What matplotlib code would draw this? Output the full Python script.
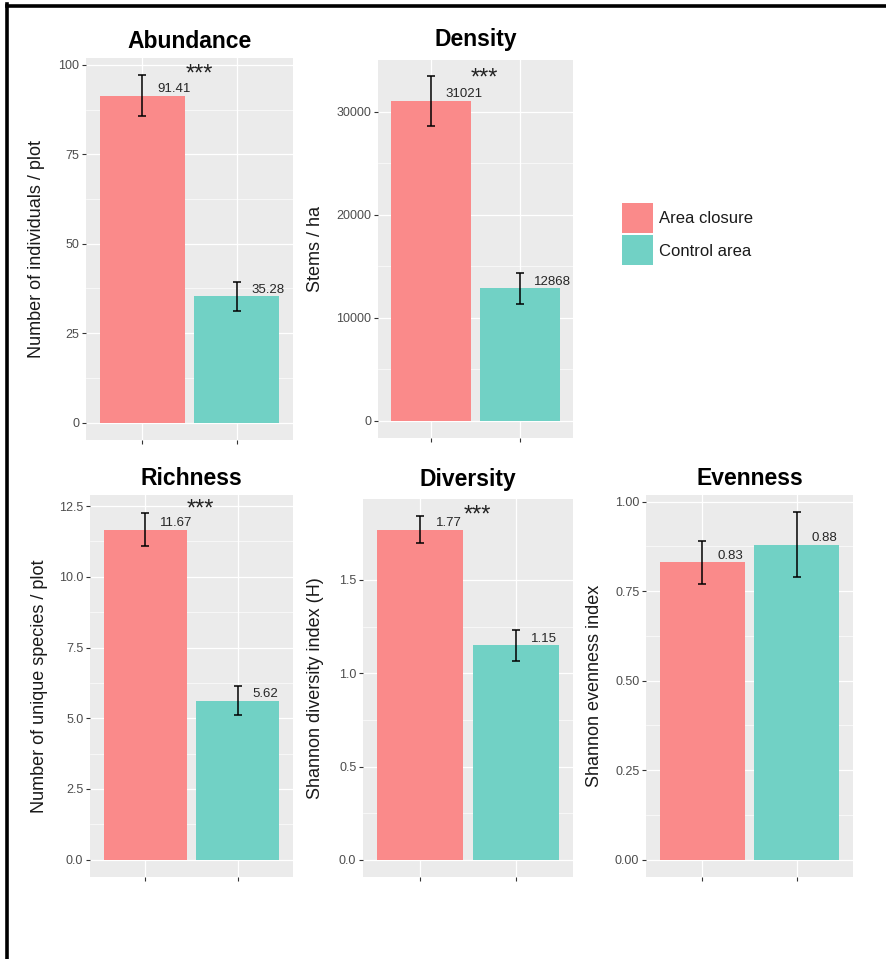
import matplotlib
matplotlib.use("Agg")
import matplotlib.pyplot as plt
from matplotlib.patches import Patch
from matplotlib.lines import Line2D

plt.rcParams['font.family'] = ['Liberation Sans', 'DejaVu Sans']

# Grupos y colores
grupos = ["Area closure", "Control area"]
colores = ["#FA8A8A", "#71D1C5"]

# Medias y errores de cada indicador (Area closure, Control area)
medias_abundancia = [91.41, 35.28]
err_abundancia = [5.6, 4.0]
medias_densidad = [31021, 12868]
err_densidad = [2430, 1505]
medias_riqueza = [11.67, 5.62]
err_riqueza = [0.6, 0.52]
medias_diversidad = [1.77, 1.15]
err_diversidad = [0.071, 0.082]
medias_equidad = [0.83, 0.88]
err_equidad = [0.061, 0.09]

# Asteriscos de significancia (None = sin marca)
estrellas_y = [99.2, 33825, 12.6, 1.878, None]

titulos = ["Abundance", "Density", "Richness", "Diversity", "Evenness"]
etiquetas_y = ["Number of individuals / plot", "Stems / ha",
               "Number of unique species / plot", "Shannon diversity index (H)",
               "Shannon evenness index"]

ticks_abundancia = [0, 25, 50, 75, 100]
ticks_densidad = [0, 10000, 20000, 30000]
ticks_riqueza = [0, 2.5, 5.0, 7.5, 10.0, 12.5]
ticks_diversidad = [0, 0.5, 1.0, 1.5]
ticks_equidad = [0, 0.25, 0.5, 0.75, 1.0]

txt_abundancia = ["0", "25", "50", "75", "100"]
txt_densidad = ["0", "10000", "20000", "30000"]
txt_riqueza = ["0.0", "2.5", "5.0", "7.5", "10.0", "12.5"]
txt_diversidad = ["0.0", "0.5", "1.0", "1.5"]
txt_equidad = ["0.00", "0.25", "0.50", "0.75", "1.00"]

if __name__ == "__main__":
    W, H = 887, 959
    fig = plt.figure(figsize=(W / 100, H / 100), dpi=100)

    def caja(x0, y0, x1, y1):
        # pixeles -> fraccion de figura
        return [x0 / W, 1 - y1 / H, (x1 - x0) / W, (y1 - y0) / H]

    posiciones = [caja(86, 58, 293, 440), caja(378, 60, 573, 438),
                  caja(90, 495, 293, 877), caja(363, 499, 573, 877),
                  caja(646, 495, 853, 877)]
    limites = [(-4.85, 101.9), (-1650, 35000), (-0.61, 12.89),
               (-0.092, 1.934), (-0.0485, 1.0185)]
    pos_ylabel = [37, 316, 40, 316, 595]
    base_titulo = [48, 46, 485, 486, 485]
    formatos = ["{:.2f}", "{:.0f}", "{:.2f}", "{:.2f}", "{:.2f}"]

    datos = [
        (medias_abundancia, err_abundancia, ticks_abundancia, txt_abundancia),
        (medias_densidad, err_densidad, ticks_densidad, txt_densidad),
        (medias_riqueza, err_riqueza, ticks_riqueza, txt_riqueza),
        (medias_diversidad, err_diversidad, ticks_diversidad, txt_diversidad),
        (medias_equidad, err_equidad, ticks_equidad, txt_equidad),
    ]

    x = [1, 2]
    for i, (medias, errores, ticks, txt) in enumerate(datos):
        ax = fig.add_axes(posiciones[i])
        ax.set_facecolor("#EBEBEB")
        ax.set_axisbelow(True)
        for s in ax.spines.values():
            s.set_visible(False)

        ax.bar(x, medias, width=0.9, color=colores, zorder=2)
        ax.errorbar(x, medias, yerr=errores, fmt="none", ecolor="black",
                    elinewidth=1.1, capsize=2.6, capthick=1.1, zorder=3)
        for xi, m in zip(x, medias):
            ax.annotate(formatos[i].format(m), (xi + 0.16, m), xytext=(0, 0.5),
                        textcoords="offset points", ha="left", va="bottom",
                        fontsize=9.5, color="#262626", zorder=4)
        if estrellas_y[i] is not None:
            ax.annotate("***", (1.6, estrellas_y[i]), xytext=(0, -9),
                        textcoords="offset points", ha="center", va="baseline",
                        fontsize=17, color="#222222")

        ax.set_xlim(0.4, 2.6)
        ax.set_ylim(*limites[i])
        ax.set_xticks(x)
        ax.set_xticklabels(["", ""])
        ax.set_yticks(ticks)
        ax.set_yticklabels(txt)
        menores = [(a + b) / 2 for a, b in zip(ticks[:-1], ticks[1:])]
        ax.set_yticks(menores, minor=True)
        ax.grid(which="major", color="white", linewidth=0.9)
        ax.grid(which="minor", axis="y", color="white", linewidth=0.45)
        ax.tick_params(which="major", length=2.8, width=0.8, color="#333333",
                       labelsize=9, labelcolor="#4D4D4D", pad=2)
        ax.tick_params(which="minor", length=0)

        izq, abajo, ancho, alto = posiciones[i]
        fig.text(izq + ancho / 2, 1 - base_titulo[i] / H, titulos[i],
                 ha="center", va="baseline", fontsize=16.5,
                 fontweight="bold", color="black")
        fig.text(pos_ylabel[i] / W, abajo + alto / 2, etiquetas_y[i],
                 rotation=90, ha="center", va="center", fontsize=13,
                 color="#1A1A1A")

    # Leyenda
    manejadores = [Patch(facecolor=c, edgecolor="none") for c in colores]
    fig.legend(manejadores, grupos, loc="upper left",
               bbox_to_anchor=(622 / W, 1 - 203 / H), frameon=False,
               fontsize=12, handlelength=1.86, handleheight=2.39,
               handletextpad=0.36, labelspacing=0.15, borderpad=0,
               borderaxespad=0, labelcolor="#1A1A1A")

    # Marco exterior (arriba e izquierda)
    fig.add_artist(Line2D([7 / W, 1], [1 - 5.5 / H] * 2, color="black",
                          linewidth=2.6, transform=fig.transFigure))
    fig.add_artist(Line2D([7.5 / W] * 2, [0, 1 - 4 / H], color="black",
                          linewidth=2.6, transform=fig.transFigure))

    fig.savefig("out.png", dpi=100)
